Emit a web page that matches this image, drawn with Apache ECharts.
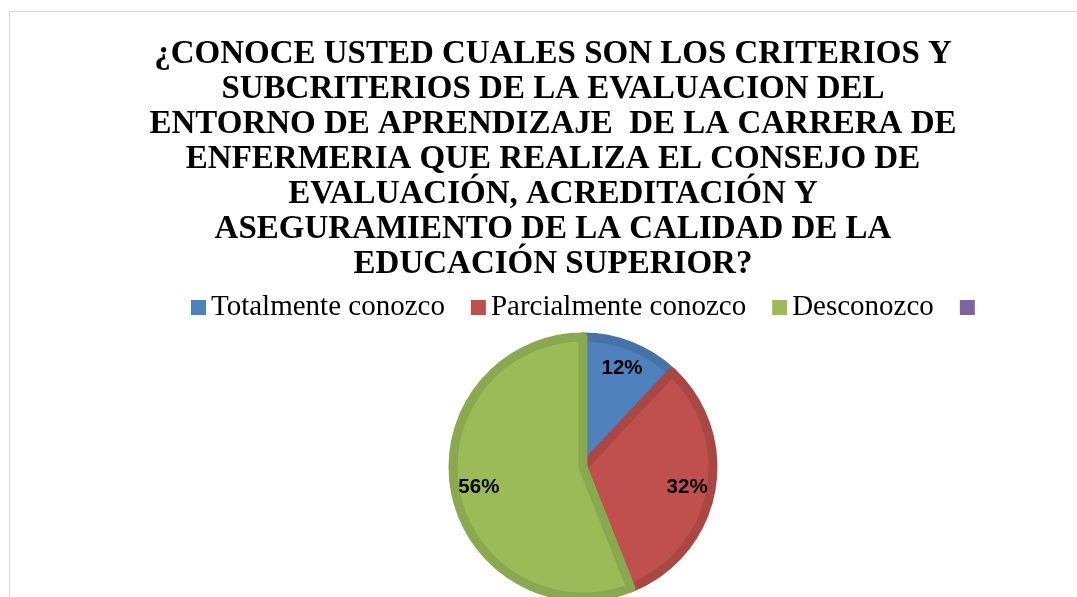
<!DOCTYPE html>
<html>
<head>
<meta charset="utf-8">
<script src="https://cdn.jsdelivr.net/npm/echarts@6/dist/echarts.min.js"></script>
<style>
  html, body { margin: 0; padding: 0; background: #fff; }
  #chart { width: 1077px; height: 597px; }
</style>
</head>
<body>
<div id="chart"></div>
<script>
var titleLines = [
    '¿CONOCE USTED CUALES SON LOS CRITERIOS Y',
    'SUBCRITERIOS DE LA EVALUACION DEL',
    'ENTORNO DE APRENDIZAJE  DE LA CARRERA DE',
    'ENFERMERIA QUE REALIZA EL CONSEJO DE',
    'EVALUACIÓN, ACREDITACIÓN Y',
    'ASEGURAMIENTO DE LA CALIDAD DE LA',
    'EDUCACIÓN SUPERIOR?'
];
var categories = ['Totalmente conozco', 'Parcialmente conozco', 'Desconozco', ' '];
var values = [12, 32, 56, 0];
var fills = ['#4F81BD', '#C0504D', '#9BBB59', '#8064A2'];
var borders = ['#4672A9', '#A94744', '#8AA84F', '#725A91'];

var chart = echarts.init(document.getElementById('chart'));

var pieData = categories.map(function (name, i) {
    return {
        name: name,
        value: values[i],
        itemStyle: { color: fills[i], borderColor: borders[i], borderWidth: values[i] ? 9 : 0 }
    };
});
var labelData = categories.map(function (name, i) {
    return {
        name: name,
        value: values[i],
        label: { show: values[i] > 0 }
    };
});

chart.setOption({
    animation: false,
    title: {
        text: titleLines.join('\n'),
        left: 548,
        textAlign: 'center',
        top: 32,
        textStyle: {
            fontFamily: 'Liberation Serif',
            fontWeight: 'bold',
            fontSize: 33,
            lineHeight: 35,
            color: '#000'
        }
    },
    legend: {
        data: categories.map(function (name, i) {
            return { name: name, itemStyle: { color: fills[i], borderWidth: 0 } };
        }),
        left: 186,
        top: 288,
        icon: 'rect',
        itemWidth: 15,
        itemHeight: 15,
        itemGap: 26,
        selectedMode: false,
        textStyle: { fontFamily: 'Liberation Serif', fontSize: 29, color: '#000' }
    },
    graphic: [{
        type: 'rect',
        shape: { x: 9.5, y: 11.5, width: 1200, height: 700 },
        style: { fill: 'none', stroke: '#d9d9d9', lineWidth: 1 },
        silent: true
    }],
    series: [{
        type: 'pie',
        center: [583, 467],
        radius: [0, 130],
        startAngle: 90,
        clockwise: true,
        silent: true,
        label: { show: false },
        labelLine: { show: false },
        data: pieData
    }, {
        type: 'pie',
        center: [583, 467],
        radius: [72, 134],
        startAngle: 90,
        clockwise: true,
        silent: true,
        itemStyle: { color: 'transparent', borderWidth: 0 },
        label: {
            position: 'inside',
            formatter: '{c}%',
            fontFamily: 'Liberation Sans',
            fontWeight: 'bold',
            fontSize: 20.5,
            color: '#000'
        },
        labelLine: { show: false },
        data: labelData
    }]
});
</script>
</body>
</html>
